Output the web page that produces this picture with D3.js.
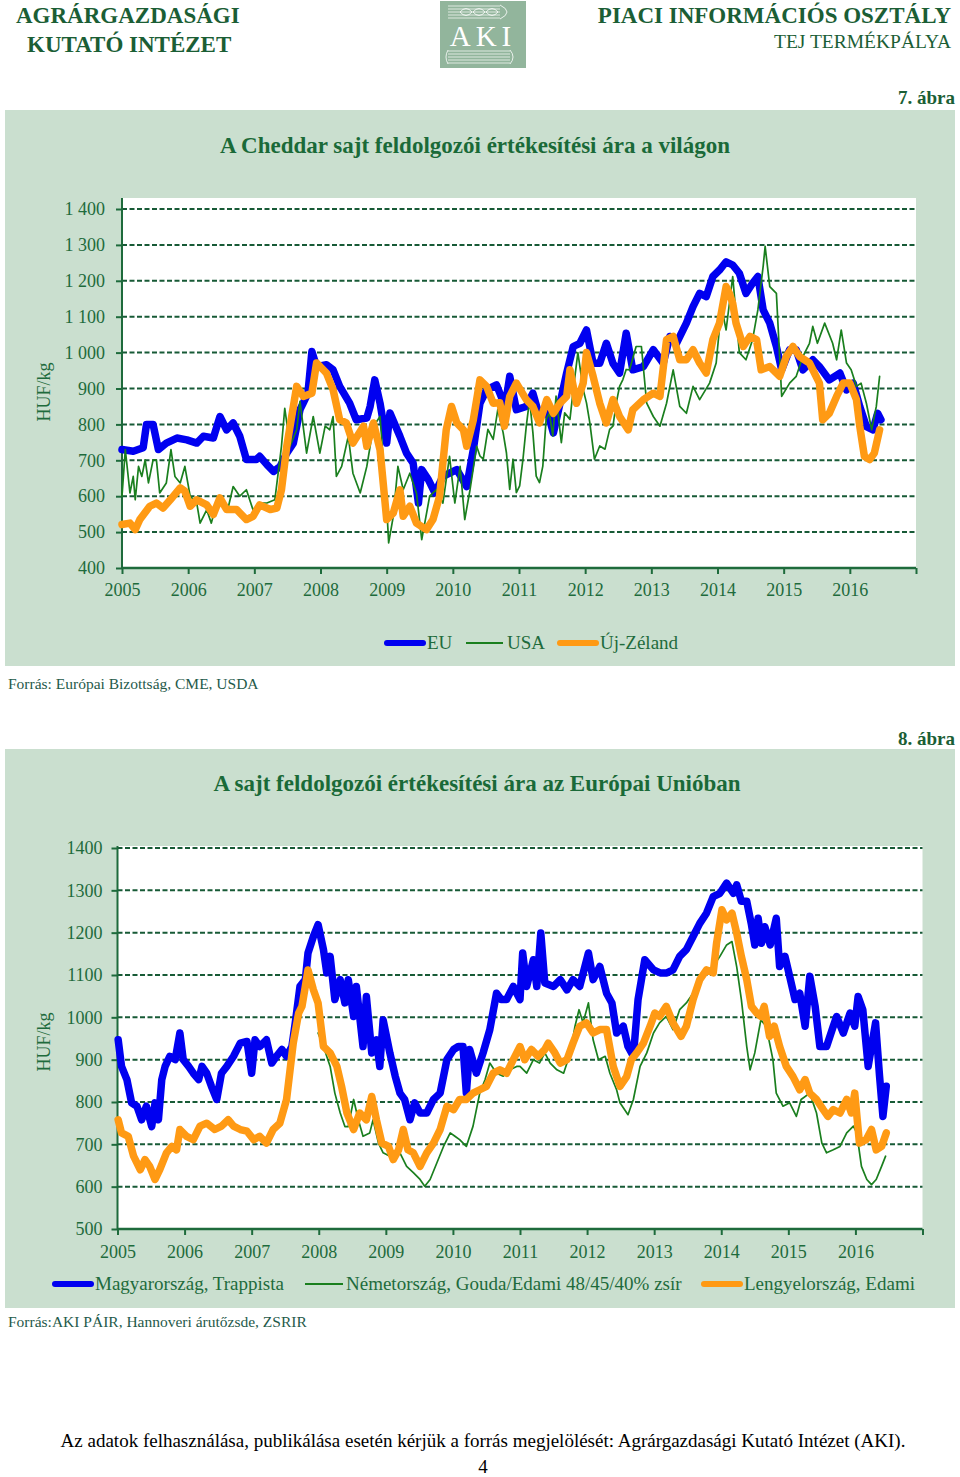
<!DOCTYPE html>
<html><head><meta charset="utf-8">
<script src="https://cdn.jsdelivr.net/npm/d3@7"></script>
<style>
html,body{margin:0;padding:0;background:#fff;}
svg{display:block;font-family:"Liberation Serif","Times New Roman",serif;}
</style></head>
<body>
<svg id="page" width="960" height="1477"></svg>
<script>
// ---------------- DATA ----------------
const years = [2005,2006,2007,2008,2009,2010,2011,2012,2013,2014,2015,2016];
const ticks1 = [400,500,600,700,800,900,1000,1100,1200,1300,1400];
const ticks2 = [500,600,700,800,900,1000,1100,1200,1300,1400];
const legend1 = ["EU","USA","Új-Zéland"];
const legend2 = ["Magyarország, Trappista","Németország, Gouda/Edami 48/45/40% zsír","Lengyelország, Edami"];

// Chart 1: Cheddar (HUF/kg) — [year, value]
const cheddarEU = [[2005.00,730],[2005.17,725],[2005.32,735],[2005.37,800],[2005.47,800],[2005.55,730],[2005.67,748],[2005.83,762],[2005.98,757],[2006.13,748],[2006.23,767],[2006.38,762],[2006.48,822],[2006.58,785],[2006.68,804],[2006.78,767],[2006.88,702],[2007.03,702],[2007.08,711],[2007.19,688],[2007.29,669],[2007.39,683],[2007.49,720],[2007.59,748],[2007.69,841],[2007.74,860],[2007.81,887],[2007.87,1003],[2007.94,961],[2008.09,966],[2008.19,952],[2008.29,906],[2008.44,859],[2008.54,813],[2008.70,818],[2008.75,850],[2008.82,924],[2008.90,859],[2009.00,748],[2009.05,832],[2009.20,767],[2009.30,720],[2009.40,692],[2009.48,581],[2009.53,674],[2009.63,646],[2009.73,609],[2009.85,655],[2010.06,674],[2010.21,627],[2010.31,730],[2010.41,859],[2010.51,896],[2010.66,910],[2010.79,850],[2010.86,934],[2010.96,841],[2011.11,850],[2011.21,887],[2011.31,822],[2011.42,841],[2011.52,776],[2011.62,859],[2011.72,943],[2011.82,1017],[2011.92,1026],[2012.02,1063],[2012.12,970],[2012.22,970],[2012.32,1026],[2012.42,970],[2012.52,943],[2012.62,1054],[2012.72,952],[2012.88,961],[2013.03,1008],[2013.18,970],[2013.28,1045],[2013.38,1026],[2013.53,1082],[2013.63,1128],[2013.73,1165],[2013.83,1156],[2013.93,1212],[2014.03,1230],[2014.13,1253],[2014.23,1244],[2014.33,1221],[2014.43,1165],[2014.53,1193],[2014.61,1212],[2014.69,1119],[2014.79,1082],[2014.89,1017],[2014.97,952],[2015.09,1008],[2015.19,1008],[2015.29,952],[2015.44,980],[2015.54,961],[2015.69,924],[2015.85,943],[2015.95,896],[2016.05,915],[2016.15,850],[2016.25,794],[2016.35,785],[2016.42,831],[2016.47,813]];
const cheddarUSA = [[2005.00,600],[2005.05,730],[2005.12,609],[2005.17,655],[2005.20,590],[2005.25,683],[2005.30,655],[2005.35,701],[2005.40,637],[2005.47,701],[2005.52,701],[2005.57,609],[2005.67,637],[2005.74,730],[2005.80,655],[2005.88,637],[2005.95,683],[2006.03,600],[2006.13,581],[2006.18,525],[2006.28,562],[2006.35,525],[2006.43,581],[2006.53,572],[2006.61,572],[2006.68,627],[2006.78,600],[2006.88,618],[2006.98,562],[2007.08,581],[2007.19,581],[2007.31,590],[2007.41,739],[2007.46,845],[2007.54,739],[2007.64,785],[2007.69,864],[2007.79,720],[2007.89,822],[2007.99,720],[2008.07,795],[2008.14,785],[2008.19,822],[2008.24,655],[2008.32,683],[2008.42,767],[2008.49,664],[2008.60,609],[2008.70,683],[2008.80,795],[2008.90,822],[2009.00,572],[2009.03,470],[2009.10,544],[2009.17,683],[2009.25,618],[2009.35,664],[2009.45,609],[2009.53,479],[2009.65,600],[2009.75,618],[2009.85,581],[2009.95,711],[2010.03,581],[2010.11,683],[2010.18,535],[2010.26,618],[2010.36,739],[2010.41,712],[2010.46,703],[2010.53,786],[2010.61,758],[2010.68,842],[2010.76,777],[2010.81,721],[2010.86,619],[2010.91,703],[2010.96,610],[2011.01,629],[2011.06,703],[2011.11,795],[2011.16,869],[2011.21,777],[2011.26,656],[2011.31,638],[2011.36,684],[2011.41,814],[2011.46,832],[2011.51,768],[2011.56,879],[2011.64,749],[2011.69,832],[2011.77,814],[2011.82,897],[2011.89,1000],[2011.97,897],[2012.02,860],[2012.07,805],[2012.14,703],[2012.22,740],[2012.30,731],[2012.37,786],[2012.42,795],[2012.47,860],[2012.52,906],[2012.57,925],[2012.62,953],[2012.67,952],[2012.77,1017],[2012.85,1017],[2012.93,859],[2013.03,822],[2013.13,795],[2013.23,859],[2013.33,952],[2013.43,850],[2013.53,831],[2013.63,906],[2013.73,869],[2013.88,915],[2013.98,971],[2014.06,1128],[2014.13,1063],[2014.23,1212],[2014.33,1000],[2014.43,980],[2014.53,1036],[2014.61,1119],[2014.69,1240],[2014.72,1296],[2014.79,1184],[2014.89,1165],[2014.97,878],[2015.09,915],[2015.19,934],[2015.29,989],[2015.39,1026],[2015.44,1073],[2015.51,1026],[2015.62,1082],[2015.74,1026],[2015.80,980],[2015.87,1063],[2015.95,971],[2016.02,952],[2016.10,906],[2016.17,915],[2016.25,859],[2016.33,785],[2016.40,850],[2016.45,934]];
const cheddarNZ = [[2005.00,521],[2005.12,525],[2005.20,507],[2005.27,535],[2005.42,572],[2005.52,581],[2005.62,567],[2005.73,590],[2005.88,623],[2005.95,614],[2006.03,572],[2006.13,590],[2006.28,576],[2006.38,549],[2006.48,595],[2006.58,563],[2006.73,563],[2006.88,535],[2006.98,544],[2007.08,576],[2007.24,563],[2007.34,567],[2007.41,618],[2007.49,739],[2007.59,850],[2007.64,906],[2007.74,878],[2007.87,887],[2007.94,971],[2007.99,962],[2008.09,943],[2008.19,897],[2008.29,813],[2008.39,804],[2008.49,748],[2008.65,795],[2008.70,739],[2008.80,804],[2008.90,729],[2009.00,535],[2009.10,553],[2009.20,618],[2009.25,544],[2009.35,572],[2009.45,525],[2009.60,507],[2009.70,535],[2009.80,600],[2009.90,785],[2009.98,850],[2010.06,804],[2010.16,785],[2010.21,739],[2010.31,813],[2010.41,924],[2010.51,906],[2010.61,859],[2010.71,860],[2010.78,795],[2010.86,878],[2010.96,915],[2011.11,869],[2011.21,850],[2011.31,804],[2011.42,869],[2011.52,831],[2011.62,859],[2011.72,878],[2011.77,952],[2011.87,859],[2011.97,915],[2012.02,1000],[2012.12,934],[2012.22,859],[2012.32,804],[2012.42,869],[2012.52,822],[2012.65,785],[2012.72,841],[2012.88,869],[2013.03,887],[2013.13,878],[2013.23,1036],[2013.33,1045],[2013.43,980],[2013.53,980],[2013.63,1008],[2013.73,971],[2013.83,943],[2013.93,1036],[2014.03,1082],[2014.13,1184],[2014.18,1165],[2014.23,1137],[2014.28,1082],[2014.39,1017],[2014.49,1045],[2014.59,1036],[2014.66,952],[2014.79,961],[2014.94,934],[2015.04,989],[2015.14,1017],[2015.24,989],[2015.39,971],[2015.54,915],[2015.59,813],[2015.69,831],[2015.80,878],[2015.90,915],[2016.00,915],[2016.10,869],[2016.15,795],[2016.22,711],[2016.30,702],[2016.37,720],[2016.45,785]];

// Chart 2: EU cheese (HUF/kg) — [year, value]
const cheeseHU = [[2005.01,947],[2005.06,884],[2005.14,853],[2005.21,798],[2005.29,790],[2005.36,758],[2005.43,790],[2005.51,742],[2005.56,798],[2005.61,758],[2005.66,853],[2005.71,884],[2005.78,908],[2005.86,900],[2005.93,963],[2005.98,900],[2006.06,884],[2006.13,868],[2006.21,853],[2006.26,884],[2006.33,868],[2006.40,837],[2006.48,806],[2006.55,868],[2006.63,884],[2006.73,908],[2006.83,939],[2006.93,943],[2007.00,868],[2007.05,947],[2007.12,931],[2007.22,947],[2007.30,892],[2007.37,908],[2007.45,924],[2007.52,908],[2007.60,931],[2007.65,987],[2007.72,1073],[2007.80,1089],[2007.84,1152],[2007.92,1191],[2007.99,1219],[2008.07,1160],[2008.12,1105],[2008.17,1144],[2008.24,1042],[2008.32,1089],[2008.39,1034],[2008.44,1089],[2008.52,1002],[2008.56,1073],[2008.66,931],[2008.71,1049],[2008.79,916],[2008.86,947],[2008.91,884],[2008.96,994],[2009.06,916],[2009.14,861],[2009.21,821],[2009.28,806],[2009.36,758],[2009.43,798],[2009.51,774],[2009.61,774],[2009.71,806],[2009.81,821],[2009.91,900],[2010.01,924],[2010.08,931],[2010.15,931],[2010.20,821],[2010.25,924],[2010.35,868],[2010.45,916],[2010.55,971],[2010.65,1057],[2010.72,1042],[2010.80,1042],[2010.90,1073],[2011.00,1042],[2011.04,1152],[2011.10,1073],[2011.20,1136],[2011.25,1073],[2011.31,1199],[2011.37,1081],[2011.50,1073],[2011.60,1089],[2011.70,1065],[2011.79,1089],[2011.89,1073],[2012.02,1152],[2012.09,1089],[2012.19,1120],[2012.29,1057],[2012.37,1034],[2012.44,963],[2012.54,979],[2012.61,931],[2012.69,908],[2012.76,1042],[2012.86,1136],[2012.99,1112],[2013.09,1105],[2013.19,1105],[2013.28,1112],[2013.38,1144],[2013.48,1160],[2013.58,1191],[2013.68,1222],[2013.78,1246],[2013.88,1285],[2013.98,1293],[2014.08,1317],[2014.18,1293],[2014.23,1313],[2014.30,1274],[2014.38,1274],[2014.45,1219],[2014.50,1171],[2014.55,1234],[2014.60,1175],[2014.65,1214],[2014.73,1171],[2014.82,1234],[2014.87,1120],[2014.95,1144],[2015.02,1097],[2015.10,1042],[2015.17,1057],[2015.25,979],[2015.32,1097],[2015.40,1026],[2015.47,931],[2015.57,931],[2015.67,979],[2015.72,1002],[2015.82,963],[2015.92,1010],[2015.99,979],[2016.04,1049],[2016.11,1018],[2016.19,884],[2016.24,931],[2016.30,987],[2016.36,861],[2016.41,766],[2016.46,837]];
const cheeseDE = [[2007.99,963],[2008.07,931],[2008.17,884],[2008.24,821],[2008.32,774],[2008.39,742],[2008.44,742],[2008.52,806],[2008.59,758],[2008.66,719],[2008.76,727],[2008.81,758],[2008.89,703],[2008.96,680],[2009.06,672],[2009.11,664],[2009.21,680],[2009.31,648],[2009.41,633],[2009.51,617],[2009.58,601],[2009.66,617],[2009.76,656],[2009.86,695],[2009.96,727],[2010.03,719],[2010.10,711],[2010.20,695],[2010.30,743],[2010.40,821],[2010.48,853],[2010.55,892],[2010.65,868],[2010.75,861],[2010.85,876],[2010.95,884],[2011.00,884],[2011.10,868],[2011.20,900],[2011.29,892],[2011.37,916],[2011.45,892],[2011.55,876],[2011.65,868],[2011.75,916],[2011.82,979],[2011.88,1018],[2011.94,987],[2012.02,1034],[2012.09,947],[2012.17,900],[2012.27,908],[2012.34,868],[2012.44,829],[2012.49,798],[2012.61,770],[2012.69,806],[2012.79,884],[2012.89,916],[2012.99,963],[2013.08,987],[2013.18,1002],[2013.28,971],[2013.38,1018],[2013.48,1034],[2013.58,1057],[2013.68,1097],[2013.78,1112],[2013.88,1120],[2013.98,1144],[2014.08,1171],[2014.16,1179],[2014.23,1120],[2014.30,1042],[2014.38,931],[2014.43,876],[2014.50,916],[2014.59,994],[2014.67,979],[2014.77,900],[2014.82,821],[2014.92,790],[2015.02,798],[2015.12,766],[2015.19,806],[2015.32,821],[2015.42,774],[2015.50,703],[2015.57,680],[2015.67,687],[2015.77,695],[2015.87,727],[2015.97,743],[2016.02,727],[2016.09,648],[2016.17,617],[2016.24,605],[2016.31,617],[2016.39,648],[2016.45,672]];
const cheesePL = [[2005.01,758],[2005.06,727],[2005.16,719],[2005.24,672],[2005.34,640],[2005.41,664],[2005.48,648],[2005.56,617],[2005.63,640],[2005.73,680],[2005.81,695],[2005.88,687],[2005.93,735],[2006.03,719],[2006.13,711],[2006.23,743],[2006.33,750],[2006.45,735],[2006.55,743],[2006.65,758],[2006.73,743],[2006.83,735],[2006.93,731],[2007.03,711],[2007.12,719],[2007.22,703],[2007.32,735],[2007.42,750],[2007.52,806],[2007.62,939],[2007.70,1010],[2007.75,1026],[2007.80,1073],[2007.84,1112],[2007.92,1065],[2007.99,1034],[2008.07,931],[2008.17,916],[2008.27,884],[2008.34,837],[2008.42,774],[2008.52,735],[2008.61,774],[2008.71,758],[2008.79,813],[2008.86,758],[2008.94,703],[2009.04,695],[2009.11,664],[2009.19,687],[2009.26,735],[2009.33,687],[2009.41,680],[2009.51,648],[2009.61,680],[2009.71,703],[2009.81,735],[2009.91,790],[2010.01,782],[2010.10,806],[2010.20,806],[2010.30,821],[2010.40,829],[2010.50,837],[2010.60,868],[2010.70,876],[2010.80,868],[2010.90,900],[2011.00,931],[2011.07,900],[2011.17,924],[2011.27,908],[2011.37,924],[2011.42,939],[2011.52,916],[2011.60,892],[2011.70,900],[2011.79,939],[2011.89,979],[2011.99,987],[2012.09,963],[2012.19,971],[2012.29,971],[2012.39,884],[2012.49,837],[2012.59,860],[2012.66,900],[2012.74,916],[2012.84,939],[2012.94,979],[2013.01,1010],[2013.08,1002],[2013.18,1026],[2013.28,987],[2013.40,955],[2013.48,979],[2013.58,1042],[2013.68,1089],[2013.78,1112],[2013.88,1105],[2013.93,1175],[2014.01,1254],[2014.08,1230],[2014.16,1246],[2014.23,1199],[2014.30,1144],[2014.38,1089],[2014.45,1026],[2014.53,1010],[2014.59,1002],[2014.64,1026],[2014.72,955],[2014.79,979],[2014.87,931],[2014.97,884],[2015.07,860],[2015.17,829],[2015.25,853],[2015.32,821],[2015.42,806],[2015.52,782],[2015.59,766],[2015.67,782],[2015.77,774],[2015.87,806],[2015.94,774],[2015.99,821],[2016.06,703],[2016.16,711],[2016.24,735],[2016.31,687],[2016.39,695],[2016.46,727]];

// ---------------- STYLE ----------------
const DARK = "#1b5e35";
const AXIS = "#1e6b3c";
const PANEL = "#cadfcf";
const BLUE = "#0000f0";
const GREEN = "#1a7f1e";
const ORANGE = "#ff9a14";

const svg = d3.select("#page");

// ---------------- HEADER ----------------
const hdr = svg.append("g");
hdr.append("text").attr("x",16).attr("y",23).attr("font-size",23).attr("font-weight","bold").attr("fill",DARK).text("AGRÁRGAZDASÁGI");
hdr.append("text").attr("x",27).attr("y",52).attr("font-size",23).attr("font-weight","bold").attr("fill",DARK).text("KUTATÓ INTÉZET");
hdr.append("text").attr("x",951).attr("y",23).attr("text-anchor","end").attr("font-size",23).attr("font-weight","bold").attr("fill",DARK).text("PIACI INFORMÁCIÓS OSZTÁLY");
hdr.append("text").attr("x",951).attr("y",48).attr("text-anchor","end").attr("font-size",19.5).attr("fill",DARK).text("TEJ TERMÉKPÁLYA");
// logo
const logo = hdr.append("g").attr("transform","translate(440,1)");
logo.append("rect").attr("width",86).attr("height",67).attr("fill","#92b59c");
[5,8,11,14,17].forEach(y => logo.append("line").attr("x1",8).attr("x2",60).attr("y1",y).attr("y2",y).attr("stroke","#fff").attr("stroke-width",0.7));
[20,33,46].forEach(x => logo.append("path").attr("d",`M${x},11 q6,-7 12,0 q-6,7 -12,0`).attr("fill","none").attr("stroke","#fff").attr("stroke-width",0.8));
logo.append("path").attr("d","M60,4 q14,7 0,14").attr("fill","none").attr("stroke","#fff").attr("stroke-width",0.8);
logo.append("text").attr("x",43).attr("y",45).attr("text-anchor","middle").attr("font-size",29).attr("letter-spacing",5).attr("fill","#fff").text("AKI");
[50,53,56,59,62].forEach(y => logo.append("line").attr("x1",8).attr("x2",70).attr("y1",y).attr("y2",y).attr("stroke","#fff").attr("stroke-width",0.7));
logo.append("path").attr("d","M8,49 q-4,7 0,14 M70,49 q6,7 0,14").attr("fill","none").attr("stroke","#fff").attr("stroke-width",0.8);

// ---------------- CHART BUILDER ----------------
function chart(cfg){
  const g = svg.append("g");
  g.append("text").attr("x",955).attr("y",cfg.figY).attr("text-anchor","end").attr("font-size",19).attr("font-weight","bold").attr("fill",DARK).text(cfg.fig);
  g.append("rect").attr("x",5).attr("y",cfg.panel[0]).attr("width",950).attr("height",cfg.panel[1]-cfg.panel[0]).attr("fill",PANEL);
  g.append("text").attr("x",cfg.titleX).attr("y",cfg.titleY).attr("text-anchor","middle").attr("font-size",23).attr("font-weight","bold").attr("fill","#1a6a38").text(cfg.title);

  const x = d3.scaleLinear().domain([2005,2017]).range(cfg.xr);
  const y = d3.scaleLinear().domain(cfg.yd).range(cfg.yr);
  g.append("rect").attr("x",cfg.xr[0]).attr("y",cfg.plotTop).attr("width",cfg.xr[1]-cfg.xr[0]).attr("height",cfg.yr[0]-cfg.plotTop).attr("fill","#fff");

  // gridlines
  g.append("g").selectAll("line").data(cfg.ticks.filter(t=>t>cfg.yd[0])).join("line")
    .attr("x1",cfg.xr[0]).attr("x2",cfg.xr[1]).attr("y1",d=>y(d)).attr("y2",d=>y(d))
    .attr("stroke","#175a36").attr("stroke-width",2).attr("stroke-dasharray","5,2.5");

  // y axis
  const ya = g.append("g").attr("transform",`translate(${cfg.xr[0]},0)`)
    .call(d3.axisLeft(y).tickValues(cfg.ticks).tickFormat(cfg.fmt).tickSize(6).tickPadding(cfg.yPad));
  ya.select(".domain").attr("stroke",AXIS).attr("stroke-width",2).attr("d",`M0,${cfg.plotTop}V${cfg.yr[0]}`);
  ya.selectAll(".tick line").attr("stroke",AXIS).attr("stroke-width",2);
  ya.selectAll(".tick text").attr("fill",AXIS).attr("font-size",18).attr("font-family","Liberation Serif");

  // x axis
  const xa = g.append("g").attr("transform",`translate(0,${cfg.yr[0]})`)
    .call(d3.axisBottom(x).tickValues(d3.range(2005,2018)).tickFormat(d=>years.includes(d)?d:"").tickSize(6).tickPadding(cfg.xPad));
  xa.select(".domain").attr("stroke",AXIS).attr("stroke-width",2.5).attr("d",`M${cfg.xr[0]},0H${cfg.xr[1]}`);
  xa.selectAll(".tick line").attr("stroke",AXIS).attr("stroke-width",2);
  xa.selectAll(".tick text").attr("fill",AXIS).attr("font-size",18).attr("font-family","Liberation Serif");

  // y label
  g.append("text").attr("transform",`translate(50,${cfg.ylabY}) rotate(-90)`).attr("text-anchor","middle")
    .attr("font-size",18).attr("fill",AXIS).text("HUF/kg");

  // series
  const line = d3.line().x(d=>x(d[0])).y(d=>y(d[1]));
  cfg.series.forEach(s=>{
    g.append("path").datum(s.data).attr("d",line).attr("fill","none").attr("stroke",s.color)
      .attr("stroke-width",s.w).attr("stroke-linejoin","round").attr("stroke-linecap","round");
  });

  // legend
  const lg = g.append("g");
  cfg.legend.forEach(l=>{
    lg.append("line").attr("x1",l.x1).attr("x2",l.x2).attr("y1",cfg.legY).attr("y2",cfg.legY)
      .attr("stroke",l.color).attr("stroke-width",l.w).attr("stroke-linecap",l.w>3?"round":"butt");
    lg.append("text").attr("x",l.tx).attr("y",cfg.legY+6).attr("font-size",19).attr("fill",AXIS).text(l.label);
  });

  g.append("text").attr("x",8).attr("y",cfg.srcY).attr("font-size",15.5).attr("fill","#1f5a4a").text(cfg.src);
}

const sp = d3.formatLocale({decimal:",",thousands:"\u00a0",grouping:[3],currency:["",""]});

chart({
  fig:"7. ábra", figY:104, panel:[110,666], title:"A Cheddar sajt feldolgozói értékesítési ára a világon", titleX:475, titleY:153,
  xr:[122,916], yd:[400,1400], yr:[568,209], plotTop:198, ticks:ticks1, fmt:sp.format(","), yPad:11, xPad:9, ylabY:392,
  series:[{data:cheddarEU,color:BLUE,w:7.5},{data:cheddarUSA,color:GREEN,w:1.7},{data:cheddarNZ,color:ORANGE,w:7.5}],
  legY:643,
  legend:[{x1:387,x2:423,color:BLUE,w:6,tx:427,label:legend1[0]},{x1:466,x2:503,color:GREEN,w:2,tx:507,label:legend1[1]},{x1:560,x2:596,color:ORANGE,w:6,tx:600,label:legend1[2]}],
  srcY:689, src:"Forrás: Európai Bizottság, CME, USDA"
});

chart({
  fig:"8. ábra", figY:745, panel:[749,1308], title:"A sajt feldolgozói értékesítési ára az Európai Unióban", titleX:477, titleY:791,
  xr:[117.5,922.5], yd:[500,1400], yr:[1229,848], plotTop:846, ticks:ticks2, fmt:d3.format("d"), yPad:9, xPad:10, ylabY:1042,
  series:[{data:cheeseHU,color:BLUE,w:7.5},{data:cheeseDE,color:GREEN,w:1.7},{data:cheesePL,color:ORANGE,w:7.5}],
  legY:1284,
  legend:[{x1:55,x2:91,color:BLUE,w:6,tx:95,label:legend2[0]},{x1:305,x2:343,color:GREEN,w:2,tx:346,label:legend2[1]},{x1:704,x2:740,color:ORANGE,w:6,tx:744,label:legend2[2]}],
  srcY:1327, src:"Forrás:AKI PÁIR, Hannoveri árutőzsde, ZSRIR"
});

// footer
svg.append("text").attr("x",483).attr("y",1447).attr("text-anchor","middle").attr("font-size",19).attr("fill","#000")
  .text("Az adatok felhasználása, publikálása esetén kérjük a forrás megjelölését: Agrárgazdasági Kutató Intézet (AKI).");
svg.append("text").attr("x",483).attr("y",1473).attr("text-anchor","middle").attr("font-size",19).attr("fill","#000").text("4");
</script>
</body></html>
